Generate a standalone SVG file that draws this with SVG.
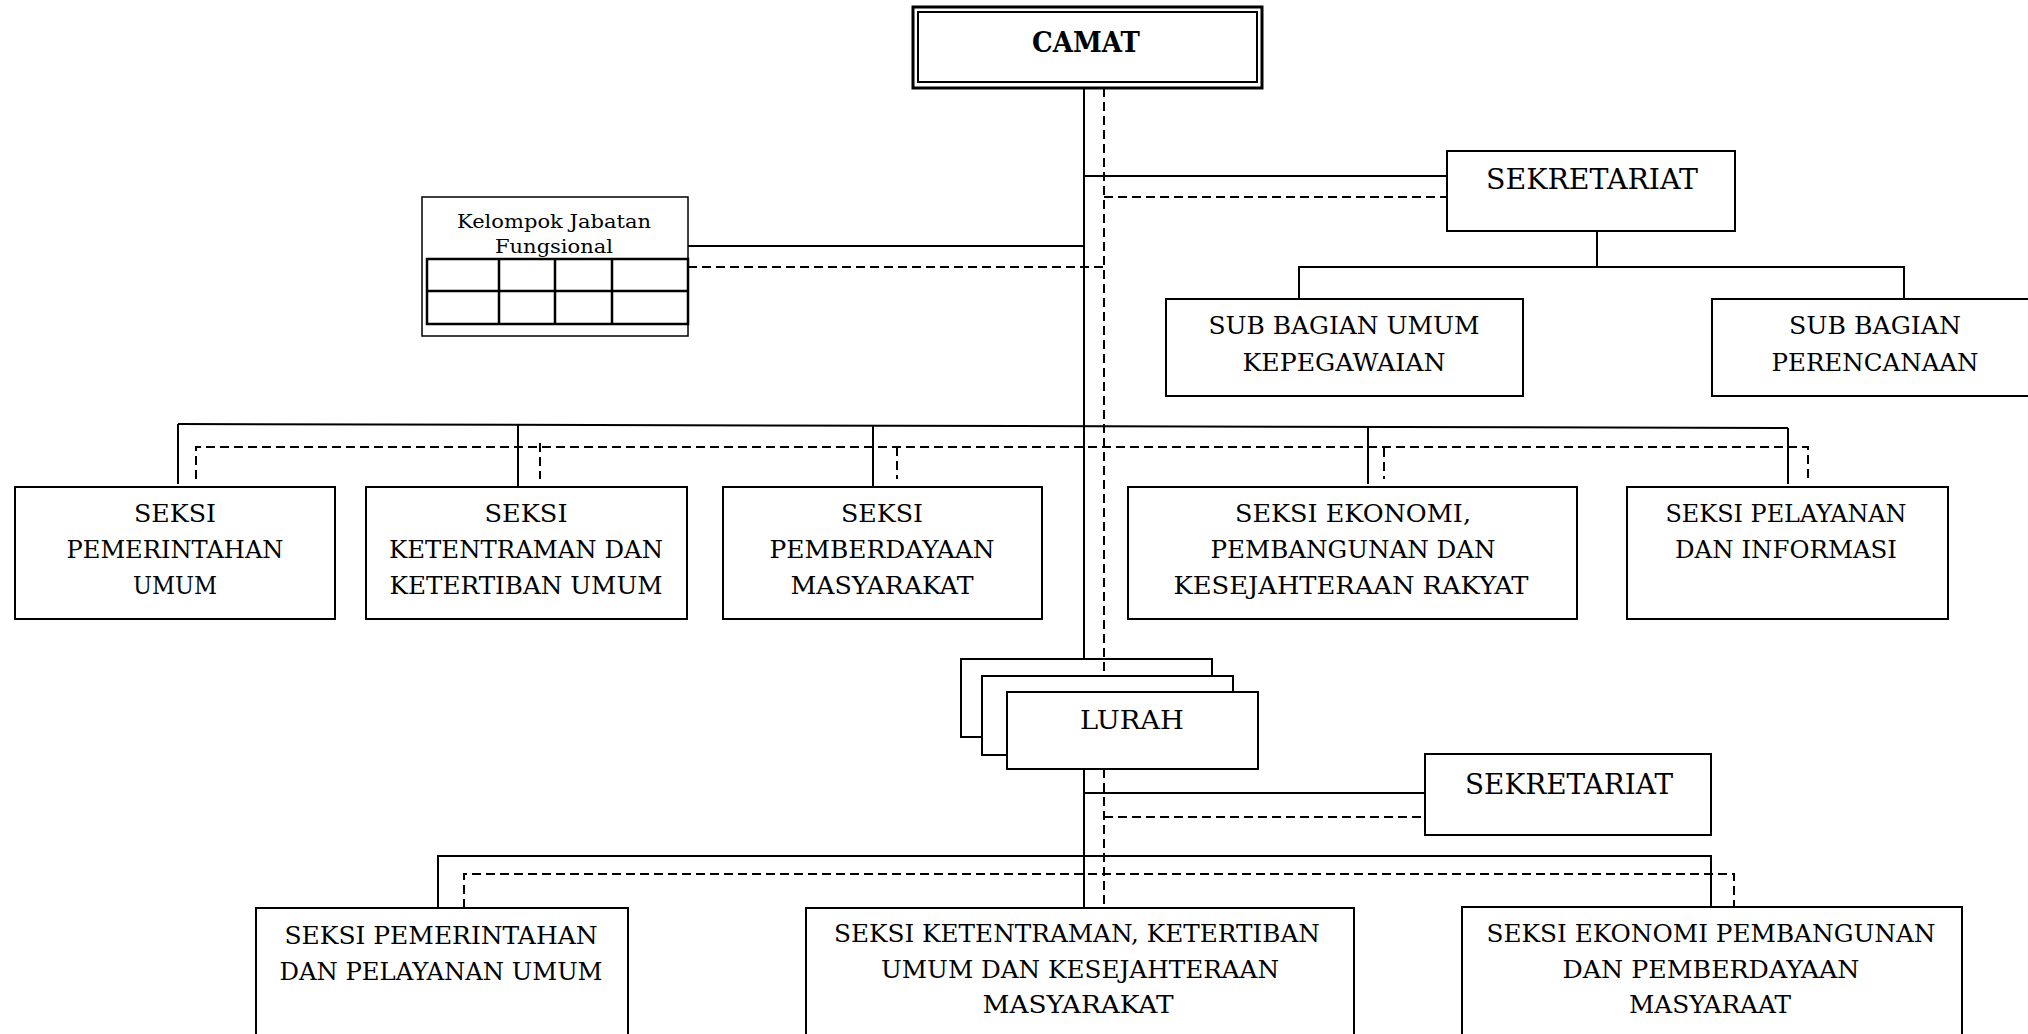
<svg xmlns="http://www.w3.org/2000/svg" width="2028" height="1034" viewBox="0 0 2028 1034">
<style>
.bg{fill:#fff}
.box{fill:#fff;stroke:#000;stroke-width:2}
.t{font-family:"DejaVu Serif","Liberation Serif",serif;font-size:24px;text-anchor:middle;fill:#000}
.big{font-size:28px}
.lu{font-size:26px}
.sm{font-size:18px}
.b{font-weight:bold;font-size:27px}
.ln{stroke:#000;stroke-width:2;fill:none}
.dl{stroke:#000;stroke-width:2;stroke-dasharray:9 5;fill:none}
.grid{stroke:#000;stroke-width:2.5;fill:none}
</style>
<rect class="bg" x="0" y="0" width="2028" height="1034"/>

<g id="camat">
<rect x="913" y="7" width="349" height="81" fill="#fff" stroke="#000" stroke-width="3"/>
<rect x="918" y="12" width="339" height="70" fill="none" stroke="#000" stroke-width="2"/>
<text class="t b" x="1086" y="52" textLength="108" lengthAdjust="spacingAndGlyphs">CAMAT</text>
</g>

<g id="kelompok">
<rect x="422" y="197" width="266" height="139" fill="#fff" stroke="#000" stroke-width="1.5"/>
<text class="t sm" x="554" y="228" textLength="194" lengthAdjust="spacingAndGlyphs">Kelompok Jabatan</text>
<text class="t sm" x="554" y="253" textLength="118" lengthAdjust="spacingAndGlyphs">Fungsional</text>
<rect class="grid" x="427" y="259" width="261" height="65"/>
<path class="grid" d="M427 291H688M499 259V324M555 259V324M612 259V324"/>
</g>

<g id="sekretariat">
<rect class="box" x="1447" y="151" width="288" height="80"/>
<text class="t big" x="1592" y="189" textLength="212" lengthAdjust="spacingAndGlyphs">SEKRETARIAT</text>
</g>

<g id="subbag-umum">
<rect class="box" x="1166" y="299" width="357" height="97"/>
<text class="t" x="1344" y="334" textLength="271" lengthAdjust="spacingAndGlyphs">SUB BAGIAN UMUM</text>
<text class="t" x="1344" y="371" textLength="203" lengthAdjust="spacingAndGlyphs">KEPEGAWAIAN</text>
</g>

<g id="subbag-perencanaan">
<rect class="box" x="1712" y="299" width="330" height="97"/>
<text class="t" x="1875" y="334" textLength="172" lengthAdjust="spacingAndGlyphs">SUB BAGIAN</text>
<text class="t" x="1875" y="371" textLength="207" lengthAdjust="spacingAndGlyphs">PERENCANAAN</text>
</g>

<g id="seksi-pemerintahan">
<rect class="box" x="15" y="487" width="320" height="132"/>
<text class="t" x="175" y="522" textLength="82" lengthAdjust="spacingAndGlyphs">SEKSI</text>
<text class="t" x="175" y="558" textLength="217" lengthAdjust="spacingAndGlyphs">PEMERINTAHAN</text>
<text class="t" x="175" y="594" textLength="84" lengthAdjust="spacingAndGlyphs">UMUM</text>
</g>

<g id="seksi-ketentraman">
<rect class="box" x="366" y="487" width="321" height="132"/>
<text class="t" x="526" y="522" textLength="83" lengthAdjust="spacingAndGlyphs">SEKSI</text>
<text class="t" x="526" y="558" textLength="274" lengthAdjust="spacingAndGlyphs">KETENTRAMAN DAN</text>
<text class="t" x="526" y="594" textLength="273" lengthAdjust="spacingAndGlyphs">KETERTIBAN UMUM</text>
</g>

<g id="seksi-pemberdayaan">
<rect class="box" x="723" y="487" width="319" height="132"/>
<text class="t" x="882" y="522" textLength="82" lengthAdjust="spacingAndGlyphs">SEKSI</text>
<text class="t" x="882" y="558" textLength="225" lengthAdjust="spacingAndGlyphs">PEMBERDAYAAN</text>
<text class="t" x="882" y="594" textLength="183" lengthAdjust="spacingAndGlyphs">MASYARAKAT</text>
</g>

<g id="seksi-ekonomi">
<rect class="box" x="1128" y="487" width="449" height="132"/>
<text class="t" x="1353" y="522" textLength="236" lengthAdjust="spacingAndGlyphs">SEKSI EKONOMI,</text>
<text class="t" x="1353" y="558" textLength="285" lengthAdjust="spacingAndGlyphs">PEMBANGUNAN DAN</text>
<text class="t" x="1351" y="594" textLength="355" lengthAdjust="spacingAndGlyphs">KESEJAHTERAAN RAKYAT</text>
</g>

<g id="seksi-pelayanan">
<rect class="box" x="1627" y="487" width="321" height="132"/>
<text class="t" x="1786" y="522" textLength="241" lengthAdjust="spacingAndGlyphs">SEKSI PELAYANAN</text>
<text class="t" x="1786" y="558" textLength="222" lengthAdjust="spacingAndGlyphs">DAN INFORMASI</text>
</g>

<g id="lurah">
<rect class="box" x="961" y="659" width="251" height="78"/>
<rect class="box" x="982" y="676" width="251" height="79"/>
<rect class="box" x="1007" y="692" width="251" height="77"/>
<text class="t lu" x="1132" y="729" textLength="104" lengthAdjust="spacingAndGlyphs">LURAH</text>
</g>

<g id="sekretariat-lurah">
<rect class="box" x="1425" y="754" width="286" height="81"/>
<text class="t big" x="1569" y="794" textLength="208" lengthAdjust="spacingAndGlyphs">SEKRETARIAT</text>
</g>

<g id="kel-pemerintahan">
<rect class="box" x="256" y="908" width="372" height="140"/>
<text class="t" x="441" y="944" textLength="313" lengthAdjust="spacingAndGlyphs">SEKSI PEMERINTAHAN</text>
<text class="t" x="441" y="980" textLength="323" lengthAdjust="spacingAndGlyphs">DAN PELAYANAN UMUM</text>
</g>

<g id="kel-ketentraman">
<rect class="box" x="806" y="908" width="548" height="140"/>
<text class="t" x="1077" y="942" textLength="486" lengthAdjust="spacingAndGlyphs">SEKSI KETENTRAMAN, KETERTIBAN</text>
<text class="t" x="1080" y="978" textLength="398" lengthAdjust="spacingAndGlyphs">UMUM DAN KESEJAHTERAAN</text>
<text class="t" x="1078" y="1013" textLength="191" lengthAdjust="spacingAndGlyphs">MASYARAKAT</text>
</g>

<g id="kel-ekonomi">
<rect class="box" x="1462" y="907" width="500" height="140"/>
<text class="t" x="1711" y="942" textLength="449" lengthAdjust="spacingAndGlyphs">SEKSI EKONOMI PEMBANGUNAN</text>
<text class="t" x="1711" y="978" textLength="297" lengthAdjust="spacingAndGlyphs">DAN PEMBERDAYAAN</text>
<text class="t" x="1710" y="1013" textLength="162" lengthAdjust="spacingAndGlyphs">MASYARAAT</text>
</g>

<g id="connectors">
<path class="ln" d="M1084 88V659"/>
<path class="ln" d="M1084 176H1447"/>
<path class="ln" d="M688 246H1084"/>
<path class="ln" d="M1597 231V267M1299 299V267H1904V299"/>
<path class="ln" d="M178 424L1788 428"/>
<path class="ln" d="M178 424V484M518 424V487M873 425V487M1368 427V484M1788 428V484"/>
<path class="ln" d="M1084 769V908"/>
<path class="ln" d="M1084 793H1425"/>
<path class="ln" d="M438 908V856H1711V907"/>
<path class="dl" d="M1104 88V676"/>
<path class="dl" d="M1104 197H1447"/>
<path class="dl" d="M688 267H1104"/>
<path class="dl" d="M196 479V447H1808V479"/>
<path class="dl" d="M540 443V479M897 447V479M1384 448V479"/>
<path class="dl" d="M1104 769V908"/>
<path class="dl" d="M1104 817H1425"/>
<path class="dl" d="M464 908V874H1734V907"/>
</g>
</svg>
